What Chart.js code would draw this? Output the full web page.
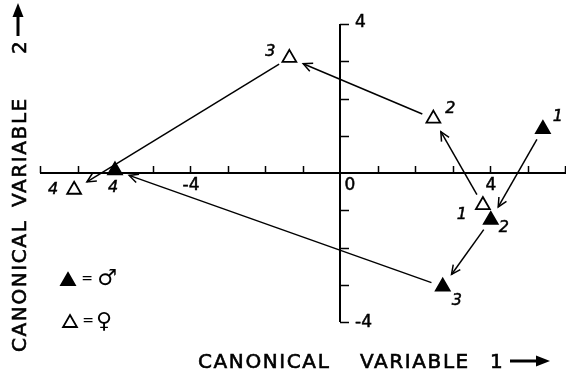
<!DOCTYPE html>
<html>
<head>
<meta charset="utf-8">
<script src="https://cdn.jsdelivr.net/npm/chart.js@4.4.1/dist/chart.umd.min.js"></script>
<style>
  html, body { margin: 0; padding: 0; background: #fff; }
  canvas { display: block; }
</style>
</head>
<body>
<canvas id="chart" width="566" height="376"></canvas>
<script>
// Stage numbers shown next to each point
const stageLabels = ['1', '2', '3', '4'];

// Canonical variable scores for each stage
const maleX = [5.41, 4.02, 2.74, -6.0];
const maleY = [1.18, -1.26, -3.05, 0.07];
const femaleX = [3.81, 2.49, -1.35, -7.09];
const femaleY = [-0.86, 1.46, 3.09, -0.45];

// Axis tick labels
const xTickLabels = [-4, 0, 4];
const yTickLabels = [4, -4];

// Axis titles
const xTitleWords = ['CANONICAL', 'VARIABLE', '1'];
const yTitleWords = ['CANONICAL', 'VARIABLE', '2'];

// Legend symbols
const maleSymbol = '\u2642';
const femaleSymbol = '\u2640';

// ---- styling ----
const ink = '#000';
const labelFont = 'italic 16px "DejaVu Sans"';
const tickFont = '17px "DejaVu Sans"';
const titleFont = '20px "DejaVu Sans"';

// label offsets (px) from each marker, per stage
const maleLabelOffsets = [[15, -12], [13, 8], [14, 14], [-2, 17]];
const femaleLabelOffsets = [[-21, 10], [17, -10], [-19, -6], [-21, 0]];

function toPoints(xs, ys) {
  return xs.map((v, i) => ({ x: v, y: ys[i] }));
}

// text drawn with a hairline outline so strokes look like pen lettering
function inkText(ctx, str, x, y, weight) {
  ctx.fillText(str, x, y);
  ctx.lineWidth = weight;
  ctx.strokeText(str, x, y);
}

function drawHead(ctx, x, y, ang, len, spread) {
  ctx.beginPath();
  ctx.moveTo(x - len * Math.cos(ang - spread), y - len * Math.sin(ang - spread));
  ctx.lineTo(x, y);
  ctx.lineTo(x - len * Math.cos(ang + spread), y - len * Math.sin(ang + spread));
  ctx.stroke();
}

function drawTriangle(ctx, x, y, r, filled) {
  ctx.beginPath();
  ctx.moveTo(x, y - r);
  ctx.lineTo(x + r * Math.sin(Math.PI * 2 / 3), y + r / 2);
  ctx.lineTo(x - r * Math.sin(Math.PI * 2 / 3), y + r / 2);
  ctx.closePath();
  ctx.fillStyle = filled ? ink : '#fff';
  ctx.fill();
  ctx.lineWidth = 1.8;
  ctx.strokeStyle = ink;
  ctx.stroke();
}

const figurePlugin = {
  id: 'figure',
  beforeDatasetsDraw(chart) {
    const { ctx } = chart;
    const xs = chart.scales.x, ys = chart.scales.y;
    const x0 = xs.getPixelForValue(0);
    const y0 = ys.getPixelForValue(0);
    ctx.save();
    ctx.strokeStyle = ink;
    ctx.lineCap = 'butt';

    // horizontal axis through the origin, ticks pointing up
    ctx.lineWidth = 2;
    ctx.beginPath();
    ctx.moveTo(xs.getPixelForValue(xs.min), y0);
    ctx.lineTo(xs.getPixelForValue(xs.max) + 1, y0);
    ctx.stroke();
    ctx.lineWidth = 1.5;
    ctx.beginPath();
    for (let v = xs.min; v <= xs.max; v++) {
      if (v === 0) continue;
      const px = Math.round(xs.getPixelForValue(v)) + 0.5;
      ctx.moveTo(px, y0);
      ctx.lineTo(px, y0 - 7);
    }
    ctx.stroke();

    // vertical axis through the origin, ticks pointing right
    ctx.lineWidth = 2;
    ctx.beginPath();
    ctx.moveTo(x0, ys.getPixelForValue(ys.max));
    ctx.lineTo(x0, ys.getPixelForValue(ys.min));
    ctx.stroke();
    ctx.lineWidth = 1.5;
    ctx.beginPath();
    for (let v = ys.min; v <= ys.max; v++) {
      if (v === 0) continue;
      const py = Math.round(ys.getPixelForValue(v)) + 0.5;
      ctx.moveTo(x0, py);
      ctx.lineTo(x0 + 9, py);
    }
    ctx.stroke();

    // tick labels
    ctx.fillStyle = ink;
    ctx.font = tickFont;
    ctx.textBaseline = 'middle';
    ctx.textAlign = 'center';
    xTickLabels.forEach(v => {
      const px = xs.getPixelForValue(v) + (v === 0 ? 10 : 1);
      inkText(ctx, String(v), px, y0 + 13, 0.5);
    });
    ctx.textAlign = 'left';
    yTickLabels.forEach(v => {
      inkText(ctx, String(v), x0 + 15, ys.getPixelForValue(v) + (v > 0 ? -1 : 1), 0.5);
    });

    // transition arrows between successive stages
    ctx.lineWidth = 1.5;
    chart.data.datasets.forEach(ds => {
      const pts = ds.data.map(p => [xs.getPixelForValue(p.x), ys.getPixelForValue(p.y)]);
      for (let i = 0; i < pts.length - 1; i++) {
        const [ax, ay] = pts[i], [bx, by] = pts[i + 1];
        const dx = bx - ax, dy = by - ay;
        const d = Math.hypot(dx, dy);
        const ux = dx / d, uy = dy / d;
        const sx = ax + ux * 12, sy = ay + uy * 12;
        const ex = bx - ux * 15, ey = by - uy * 15;
        ctx.beginPath();
        ctx.moveTo(sx, sy);
        ctx.lineTo(ex, ey);
        ctx.stroke();
        drawHead(ctx, ex, ey, Math.atan2(dy, dx), 10, 0.45);
      }
    });
    ctx.restore();
  },
  afterDatasetsDraw(chart) {
    const { ctx } = chart;
    const xs = chart.scales.x, ys = chart.scales.y;
    ctx.save();
    ctx.fillStyle = ink;
    ctx.strokeStyle = ink;

    // stage numbers beside the markers
    ctx.font = labelFont;
    ctx.textAlign = 'center';
    ctx.textBaseline = 'middle';
    chart.data.datasets.forEach(ds => {
      ds.data.forEach((p, i) => {
        const [ox, oy] = ds.labelOffsets[i];
        inkText(ctx, stageLabels[i], xs.getPixelForValue(p.x) + ox, ys.getPixelForValue(p.y) + oy, 0.5);
      });
    });

    // key for the two marker styles
    drawTriangle(ctx, 68, 281, 8, true);
    drawTriangle(ctx, 70, 323, 8, false);
    ctx.fillStyle = ink;
    ctx.font = '14px "DejaVu Sans"';
    ctx.fillText('=', 87, 279);
    ctx.fillText('=', 88, 321);
    ctx.font = 'bold 22px "DejaVu Sans"';
    ctx.fillText(maleSymbol, 107, 279);
    ctx.fillText(femaleSymbol, 104, 322);

    // horizontal axis title with arrow
    ctx.font = titleFont;
    ctx.letterSpacing = '1.6px';
    ctx.textAlign = 'left';
    ctx.textBaseline = 'alphabetic';
    inkText(ctx, xTitleWords[0], 198, 368, 0.6);
    inkText(ctx, xTitleWords[1], 360, 368, 0.6);
    inkText(ctx, xTitleWords[2], 490, 368, 0.6);
    ctx.lineWidth = 3;
    ctx.beginPath();
    ctx.moveTo(510, 361);
    ctx.lineTo(540, 361);
    ctx.stroke();
    ctx.beginPath();
    ctx.moveTo(550, 361);
    ctx.lineTo(536, 355.5);
    ctx.lineTo(536, 366.5);
    ctx.closePath();
    ctx.fill();

    // vertical axis title with arrow
    ctx.save();
    ctx.translate(26, 0);
    ctx.rotate(-Math.PI / 2);
    inkText(ctx, yTitleWords[0], -352, 0, 0.6);
    inkText(ctx, yTitleWords[1], -207, 0, 0.6);
    inkText(ctx, yTitleWords[2], -54, 0, 0.6);
    ctx.restore();
    ctx.lineWidth = 3;
    ctx.beginPath();
    ctx.moveTo(18, 36);
    ctx.lineTo(18, 14);
    ctx.stroke();
    ctx.beginPath();
    ctx.moveTo(18, 3);
    ctx.lineTo(12.5, 17);
    ctx.lineTo(23.5, 17);
    ctx.closePath();
    ctx.fill();

    ctx.restore();
  }
};

new Chart(document.getElementById('chart'), {
  type: 'scatter',
  data: {
    datasets: [
      {
        label: 'male',
        data: toPoints(maleX, maleY),
        labelOffsets: maleLabelOffsets,
        pointStyle: 'triangle',
        pointRadius: 8,
        pointHoverRadius: 8,
        backgroundColor: ink,
        borderColor: ink,
        borderWidth: 1.8,
        clip: false
      },
      {
        label: 'female',
        data: toPoints(femaleX, femaleY),
        labelOffsets: femaleLabelOffsets,
        pointStyle: 'triangle',
        pointRadius: 8,
        pointHoverRadius: 8,
        backgroundColor: '#fff',
        borderColor: ink,
        borderWidth: 1.8,
        clip: false
      }
    ]
  },
  options: {
    responsive: false,
    animation: false,
    devicePixelRatio: 1,
    layout: { autoPadding: false, padding: { left: 40, right: 1, top: 24, bottom: 54 } },
    plugins: { legend: { display: false }, tooltip: { enabled: false } },
    scales: {
      x: { type: 'linear', min: -8, max: 6, display: false },
      y: { type: 'linear', min: -4, max: 4, display: false }
    }
  },
  plugins: [figurePlugin]
});
</script>
</body>
</html>
